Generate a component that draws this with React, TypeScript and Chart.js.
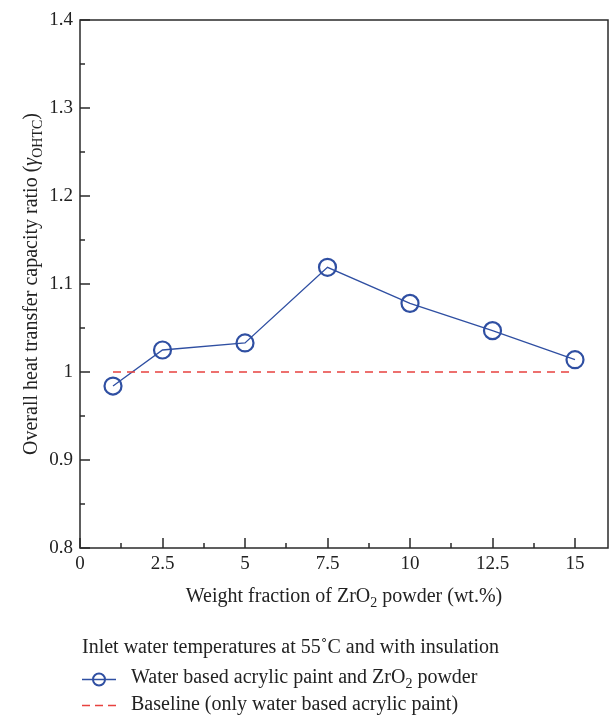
import React, { useEffect, useRef } from "react";
import { Chart, registerables } from "chart.js";

Chart.register(...registerables);

const xValues = [1, 2.5, 5, 7.5, 10, 12.5, 15];
const seriesValues = [0.984, 1.025, 1.033, 1.119, 1.078, 1.047, 1.014];
const baselineX = [1, 15];
const baselineValues = [1, 1];
const xTicks = [0, 2.5, 5, 7.5, 10, 12.5, 15];
const xMinorTicks = [1.25, 3.75, 6.25, 8.75, 11.25, 13.75];
const yTicks = [0.8, 0.9, 1, 1.1, 1.2, 1.3, 1.4];
const yMinorTicks = [0.85, 0.95, 1.05, 1.15, 1.25, 1.35];

const FONT = '"Liberation Serif", "DejaVu Serif", serif';
const AXIS = "#2a2a2a";
const BLUE = "#2F4FA2";
const RED = "#E8423F";

type Seg = { t: string; sub?: boolean; italic?: boolean };

function drawSegs(ctx: CanvasRenderingContext2D, segs: Seg[], x: number, y: number, size: number, align: "left" | "center") {
  const fontFor = (s: Seg) => `${s.italic ? "italic " : ""}${s.sub ? Math.round(size * 0.7) : size}px ${FONT}`;
  let total = 0;
  for (const s of segs) {
    ctx.font = fontFor(s);
    total += ctx.measureText(s.t).width;
  }
  let cx = align === "center" ? x - total / 2 : x;
  ctx.textBaseline = "alphabetic";
  ctx.textAlign = "left";
  for (const s of segs) {
    ctx.font = fontFor(s);
    ctx.fillText(s.t, cx, s.sub ? y + size * 0.25 : y);
    cx += ctx.measureText(s.t).width;
  }
}

const decorPlugin = {
  id: "decor",
  afterDraw(chart: any) {
    const ctx: CanvasRenderingContext2D = chart.ctx;
    const { left, right, top, bottom } = chart.chartArea;
    const xs = chart.scales.x;
    const ys = chart.scales.y;
    ctx.save();
    ctx.strokeStyle = AXIS;
    ctx.lineWidth = 1.5;
    ctx.strokeRect(left, top, right - left, bottom - top);
    ctx.lineWidth = 1.5;
    ctx.beginPath();
    for (const v of xTicks) {
      const px = Math.round(xs.getPixelForValue(v));
      ctx.moveTo(px, bottom);
      ctx.lineTo(px, bottom - 10);
    }
    for (const v of xMinorTicks) {
      const px = Math.round(xs.getPixelForValue(v));
      ctx.moveTo(px, bottom);
      ctx.lineTo(px, bottom - 5);
    }
    for (const v of yTicks) {
      const py = Math.round(ys.getPixelForValue(v));
      ctx.moveTo(left, py);
      ctx.lineTo(left + 10, py);
    }
    for (const v of yMinorTicks) {
      const py = Math.round(ys.getPixelForValue(v));
      ctx.moveTo(left, py);
      ctx.lineTo(left + 5, py);
    }
    ctx.stroke();

    ctx.fillStyle = "#222222";
    // x title
    drawSegs(ctx, [{ t: "Weight fraction of ZrO" }, { t: "2", sub: true }, { t: " powder (wt.%)" }], (left + right) / 2, 602, 20, "center");
    // y title
    ctx.save();
    ctx.translate(37, (top + bottom) / 2);
    ctx.rotate(-Math.PI / 2);
    drawSegs(ctx, [{ t: "Overall heat transfer capacity ratio (" }, { t: "γ", italic: true }, { t: "OHTC", sub: true }, { t: ")" }], 0, 0, 20, "center");
    ctx.restore();

    // legend
    drawSegs(ctx, [{ t: "Inlet water temperatures at 55˚C and with insulation" }], 82, 653, 20, "left");
    ctx.strokeStyle = BLUE;
    ctx.lineWidth = 1.3;
    ctx.beginPath();
    ctx.moveTo(82, 679.5);
    ctx.lineTo(116, 679.5);
    ctx.stroke();
    ctx.lineWidth = 2;
    ctx.beginPath();
    ctx.arc(99, 679.5, 6, 0, Math.PI * 2);
    ctx.stroke();
    drawSegs(ctx, [{ t: "Water based acrylic paint and ZrO" }, { t: "2", sub: true }, { t: " powder" }], 131, 683, 20, "left");
    ctx.strokeStyle = RED;
    ctx.lineWidth = 1.5;
    ctx.setLineDash([8, 5]);
    ctx.beginPath();
    ctx.moveTo(82, 705.5);
    ctx.lineTo(118, 705.5);
    ctx.stroke();
    ctx.setLineDash([]);
    drawSegs(ctx, [{ t: "Baseline (only water based acrylic paint)" }], 131, 710, 20, "left");
    ctx.restore();
  },
};

export default function App() {
  const ref = useRef<HTMLCanvasElement | null>(null);
  useEffect(() => {
    document.body.style.margin = "0";
    const canvas = ref.current;
    if (!canvas) return;
    const chart = new Chart(canvas, {
      type: "line",
      data: {
        datasets: [
          {
            label: "Baseline (only water based acrylic paint)",
            data: baselineX.map((x, i) => ({ x, y: baselineValues[i] })),
            borderColor: RED,
            borderWidth: 1.5,
            borderDash: [8, 6],
            pointRadius: 0,
            fill: false,
          },
          {
            label: "Water based acrylic paint and ZrO2 powder",
            data: xValues.map((x, i) => ({ x, y: seriesValues[i] })),
            borderColor: BLUE,
            borderWidth: 1.3,
            pointRadius: 8.5,
            pointBorderWidth: 2.2,
            pointBorderColor: BLUE,
            pointBackgroundColor: "rgba(0,0,0,0)",
            fill: false,
            tension: 0,
          },
        ],
      },
      options: {
        responsive: false,
        animation: false,
        layout: { autoPadding: false, padding: { top: 20, right: 1, left: 0, bottom: 0 } },
        plugins: { legend: { display: false }, tooltip: { enabled: false } },
        scales: {
          x: {
            type: "linear",
            min: 0,
            max: 16,
            afterBuildTicks: (s: any) => {
              s.ticks = xTicks.map((v) => ({ value: v }));
            },
            afterFit: (s: any) => {
              s.height = 168;
            },
            grid: { display: false, drawTicks: false },
            border: { display: false },
            ticks: {
              padding: 5,
              maxRotation: 0,
              autoSkip: false,
              color: "#222222",
              font: { family: FONT, size: 19 },
              callback: (v: any) => String(v),
            },
          },
          y: {
            type: "linear",
            min: 0.8,
            max: 1.4,
            afterBuildTicks: (s: any) => {
              s.ticks = yTicks.map((v) => ({ value: v }));
            },
            afterFit: (s: any) => {
              s.width = 80;
            },
            grid: { display: false, drawTicks: false },
            border: { display: false },
            ticks: {
              padding: 7,
              autoSkip: false,
              color: "#222222",
              font: { family: FONT, size: 19 },
              callback: (v: any) => String(Math.round(v * 10) / 10),
            },
          },
        },
      },
      plugins: [decorPlugin],
    } as any);
    return () => chart.destroy();
  }, []);
  return <canvas ref={ref} width={609} height={716} style={{ display: "block" }} />;
}
